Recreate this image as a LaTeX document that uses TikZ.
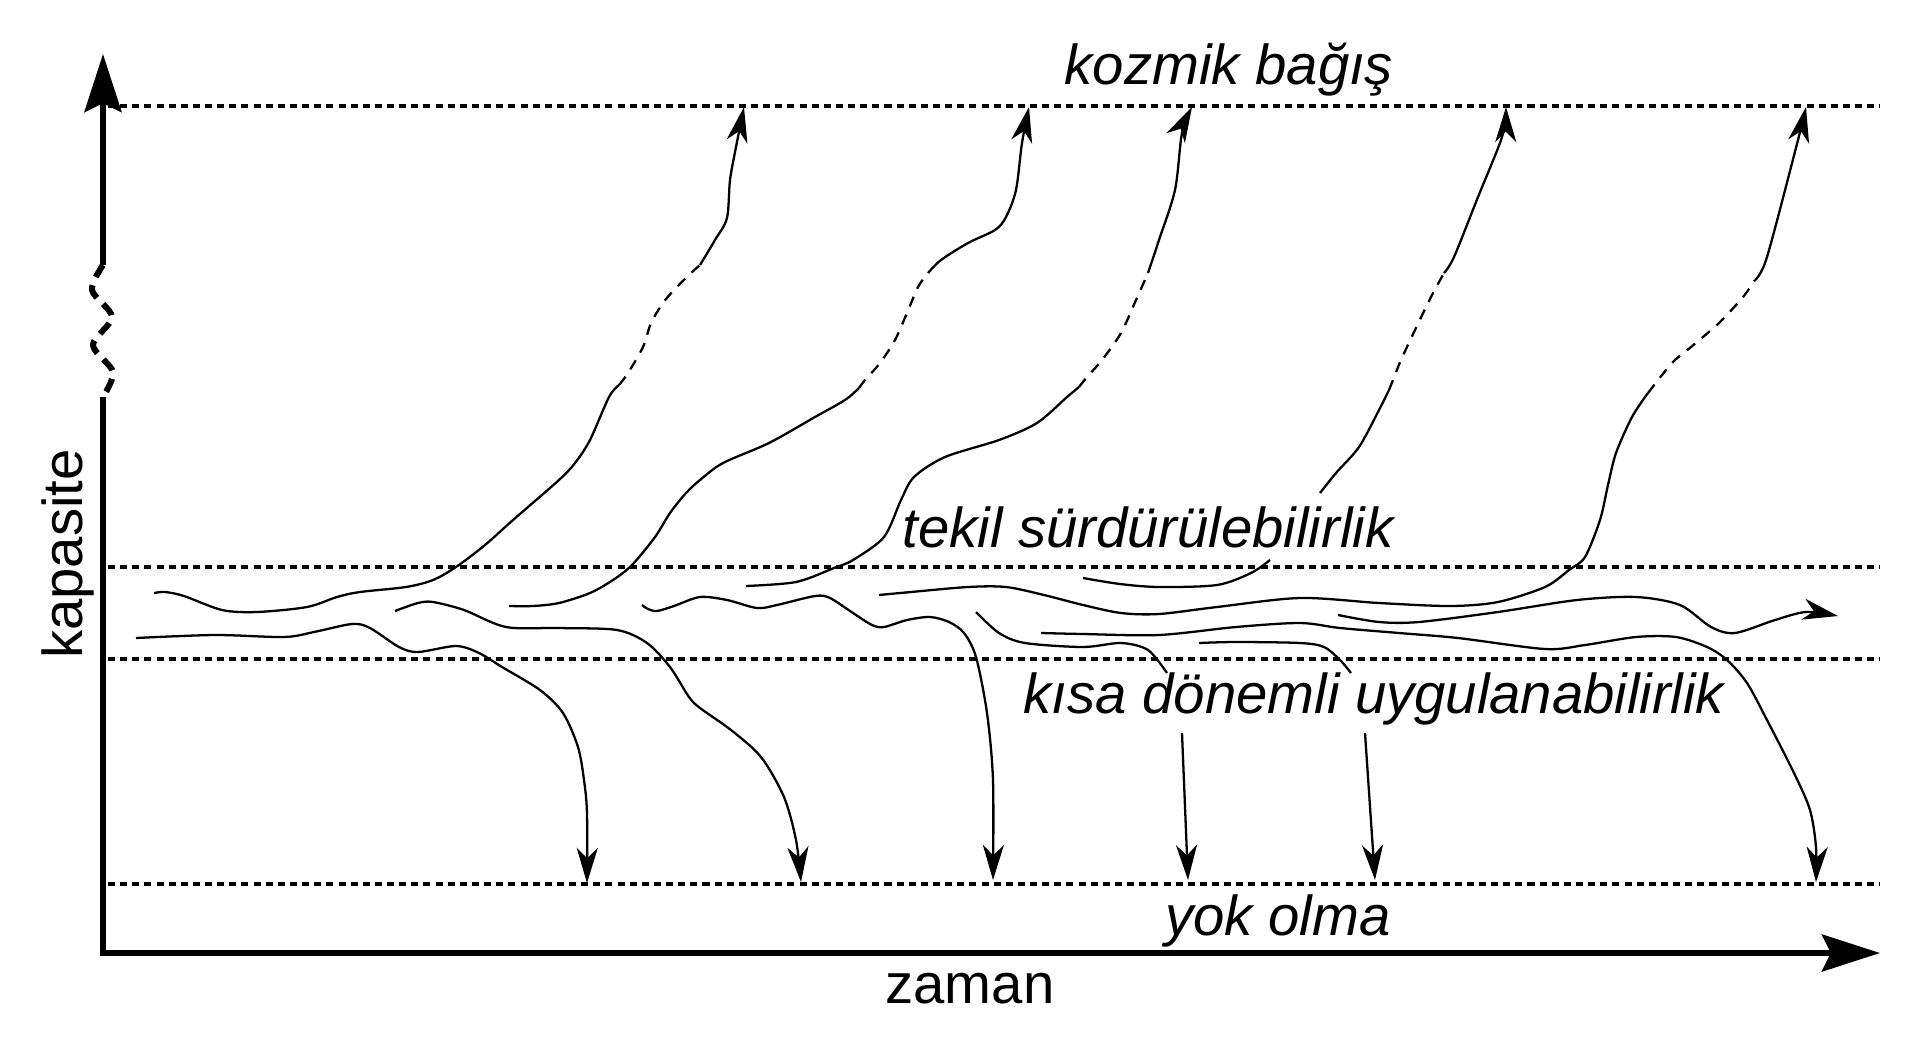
\documentclass[tikz,border=0pt]{standalone}
\usepackage{fontspec}
\setmainfont{Liberation Sans}
\usetikzlibrary{arrows.meta}

\begin{document}
\begin{tikzpicture}[x=0.01cm, y=-0.01cm,
    axisline/.style={line width=1.7pt, -{Stealth[length=16.5pt,width=10.5pt,inset=2.5pt]}},
    levelline/.style={line width=0.9pt, dash pattern=on 2pt off 1.45pt},
    trail/.style={line width=0.65pt},
    trailgap/.style={trail, dash pattern=on 3pt off 2.5pt},
    tipped/.style={-{Stealth[length=10pt,width=6pt,inset=3pt]}},
    lbl/.style={inner sep=0pt, anchor=base, font=\fontsize{16}{19}\selectfont},
    band/.style={lbl, font=\fontsize{16}{19}\selectfont\itshape}]

\useasboundingbox (0,0) rectangle (1920,1060);

% axes, with the break in the capacity axis
\draw[axisline] (103,397) -- (103,953) -- (1880,953);
\draw[axisline] (103,265) -- (103,54);
\draw[line width=1.7pt, dash pattern=on 4pt off 2.5pt] plot[smooth] coordinates {(103,265) (92,290) (112,317) (93,345) (113,372) (103,397)};

\node[lbl] (zaman) at (970,1003) {zaman};
\node[lbl, rotate=90] (kapasite) at (82,554) {kapasite};

% levels
\foreach \y in {106,567,659,884}
    \draw[levelline] (108,\y) -- (1880,\y);

\node[band] (kozmik) at (1229,84) {kozmik bağış};
\node[band] (tekil) at (1148,547) {tekil sürdürülebilirlik};
\node[band] (kisa) at (1374,713) {kısa dönemli uygulanabilirlik};
\node[band] (yokolma) at (1278,935) {yok olma};

% trails that rise
\draw[trail] plot[smooth] coordinates {(154,593) (165,592) (184,596) (222,610) (257,612) (307,607) (337,597) (360,592) (406,587) (433,580) (456,567) (485,545) (513,520) (559,480) (575,463) (590,440) (609,397) (619,385)};
\draw[trailgap] plot[smooth] coordinates {(619,385) (628,373) (643,347) (651,323) (663,303) (674,290) (691,273) (700,265)};
\draw[trail, tipped] plot[smooth] coordinates {(700,265) (715,240) (727,218) (730,180) (736,147) (744,107)};

\draw[trail] plot[smooth] coordinates {(509,606) (533,606) (559,603) (590,593) (613,580) (632,565) (655,537) (670,513) (686,493) (700,480) (723,463) (769,443) (815,417) (845,400) (859,388)};
\draw[trailgap] plot[smooth] coordinates {(859,388) (865,380) (880,363) (895,340) (907,313) (918,287) (928,273)};
\draw[trail, tipped] plot[smooth] coordinates {(928,273) (941,260) (968,243) (995,230) (1006,217) (1016,190) (1022,143) (1029,107)};

\draw[trail] plot[smooth] coordinates {(746,586) (796,582) (834,568) (853,560) (884,537) (901,500) (914,477) (945,457) (999,440) (1037,423) (1067,397) (1079,387)};
\draw[trailgap] plot[smooth] coordinates {(1079,387) (1087,377) (1102,360) (1121,333) (1136,300) (1148,273)};
\draw[trail, tipped] plot[smooth] coordinates {(1148,273) (1159,240) (1175,190) (1182,133) (1192,107)};

\draw[trail] plot[smooth] coordinates {(1083,578) (1120,584) (1159,587) (1217,585) (1251,573) (1270,560)};
\draw[trail] plot[smooth] coordinates {(1320,493) (1336,473) (1359,447) (1379,410) (1389,390)};
\draw[trailgap] plot[smooth] coordinates {(1389,390) (1393,380) (1401,360) (1415,330) (1431,297) (1444,273)};
\draw[trail, tipped] plot[smooth] coordinates {(1444,273) (1454,257) (1478,197) (1502,137) (1506,107)};

\draw[trail] plot[smooth] coordinates {(879,595) (911,592) (968,587) (1006,587) (1044,595) (1083,605) (1121,613) (1159,614) (1217,607) (1300,598) (1379,603) (1450,606) (1498,602) (1545,587) (1569,570) (1585,557) (1600,520) (1608,485) (1616,453) (1632,417) (1648,393)};
\draw[trailgap] plot[smooth] coordinates {(1648,393) (1672,363) (1691,347) (1719,323) (1743,297) (1755,280)};
\draw[trail, tipped] plot[smooth] coordinates {(1755,280) (1767,257) (1798,140) (1806,107)};

% trails that fall
\draw[trail, tipped] plot[smooth] coordinates {(136,638) (215,635) (284,637) (314,632) (352,624) (370,628) (399,647) (418,652) (456,646) (479,653) (502,667) (540,690) (563,713) (578,747) (584,780) (587,813) (587,883)};

\draw[trail, tipped] plot[smooth] coordinates {(395,611) (418,603) (433,602) (464,610) (506,627) (559,628) (617,630) (647,643) (670,667) (689,697) (700,708) (731,730) (761,757) (784,797) (796,840) (801,882)};

\draw[trail, tipped] plot[smooth] coordinates {(642,605) (648,609) (657,611) (674,606) (700,597) (727,600) (757,608) (777,605) (815,596) (830,598) (853,613) (872,625) (884,627) (907,620) (930,617) (949,622) (964,633) (976,657) (987,713) (993,780) (993,880)};

\draw[trail] plot[smooth] coordinates {(976,612) (999,633) (1025,643) (1083,647) (1121,643) (1148,650) (1167,673)};
\draw[trail, tipped] (1182,733) -- (1188,880);

\draw[trail] plot[smooth] coordinates {(1199,643) (1236,642) (1300,643) (1324,647) (1340,660) (1351,673)};
\draw[trail, tipped] (1365,733) -- (1375,880);

\draw[trail, tipped] plot[smooth] coordinates {(1041,633) (1083,634) (1159,635) (1236,627) (1300,623) (1340,628) (1399,633) (1458,638) (1545,649) (1585,645) (1636,637) (1676,637) (1707,647) (1727,660) (1747,683) (1767,720) (1794,773) (1810,810) (1816,847) (1816,882)};

% the one that carries on
\draw[trail, tipped] plot[smooth] coordinates {(1338,615) (1379,622) (1419,622) (1498,612) (1577,600) (1636,597) (1680,605) (1711,627) (1735,633) (1775,620) (1806,612) (1838,616)};

\end{tikzpicture}
\end{document}
